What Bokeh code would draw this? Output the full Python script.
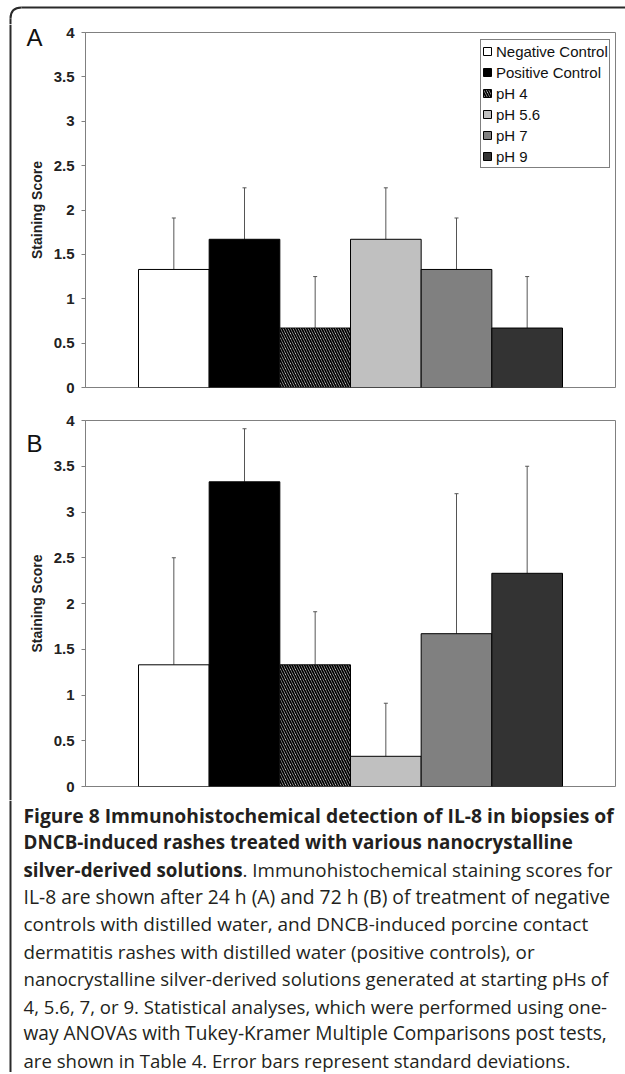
import math
from bokeh.plotting import figure
from bokeh.models import (Range1d, FixedTicker, Whisker, TeeHead, ColumnDataSource,
                          Legend, LegendItem, CustomJSTickFormatter)
from bokeh.layouts import column, row
from bokeh.embed import file_html
from bokeh.resources import INLINE
from bokeh.core.properties import value

# ---------------- data ----------------
groups = ["Negative Control", "Positive Control", "pH 4", "pH 5.6", "pH 7", "pH 9"]
bar_colors = ["#ffffff", "#000000", "#ffffff", "#c0c0c0", "#808080", "#333333"]
bar_hatches = [" ", " ", "\\", " ", " ", " "]
scores_24h = [1.33, 1.67, 0.67, 1.67, 1.33, 0.67]
sd_24h = [0.58, 0.58, 0.58, 0.58, 0.58, 0.58]
scores_72h = [1.33, 3.33, 1.33, 0.33, 1.67, 2.33]
sd_72h = [1.17, 0.58, 0.58, 0.58, 1.53, 1.17]
y_ticks = [0, 0.5, 1, 1.5, 2, 2.5, 3, 3.5, 4]
y_label = "Staining Score"
panel_letters = ["A", "B"]

caption_lines = [
    [("Figure 8 Immunohistochemical detection of IL-8 in biopsies of", "bold")],
    [("DNCB-induced rashes treated with various nanocrystalline", "bold")],
    [("silver-derived solutions", "bold"), (". Immunohistochemical staining scores for", "normal")],
    [("IL-8 are shown after 24 h (A) and 72 h (B) of treatment of negative", "normal")],
    [("controls with distilled water, and DNCB-induced porcine contact", "normal")],
    [("dermatitis rashes with distilled water (positive controls), or", "normal")],
    [("nanocrystalline silver-derived solutions generated at starting pHs of", "normal")],
    [("4, 5.6, 7, or 9. Statistical analyses, which were performed using one-", "normal")],
    [("way ANOVAs with Tukey-Kramer Multiple Comparisons post tests,", "normal")],
    [("are shown in Table 4. Error bars represent standard deviations.", "normal")],
]
caption_sizes = [19.3, 18.8, 18.8, 19.3, 19.0, 18.8, 18.6, 18.6, 19.1, 18.6]

W = 625
STRIP_W = 50
PANEL_W = W - STRIP_W
AXIS_GREY = "#808080"
FRAME_COL = "#2a2a2a"


def blank_fig(w, h):
    f = figure(width=w, height=h, x_range=Range1d(0, w), y_range=Range1d(h, 0),
               output_backend="svg", toolbar_location=None,
               x_axis_location=None, y_axis_location=None,
               min_border=0, min_border_left=0, min_border_right=0,
               min_border_top=0, min_border_bottom=0, frame_align=False)
    f.grid.visible = False
    f.outline_line_color = None
    f.border_fill_color = "white"
    f.background_fill_color = "white"
    return f


def panel(scores, sds, height, top, bottom, with_legend):
    p = figure(width=PANEL_W, height=height, x_range=Range1d(-1.25, 6.25), y_range=Range1d(0, 4),
               output_backend="svg", toolbar_location=None, frame_align=False,
               min_border_left=34, min_border_right=10, min_border_top=top,
               min_border_bottom=bottom)
    p.grid.visible = False
    p.xaxis.visible = False
    p.outline_line_color = AXIS_GREY
    p.outline_line_width = 1
    p.background_fill_color = "white"
    p.border_fill_color = "white"

    ya = p.yaxis[0]
    ya.ticker = FixedTicker(ticks=y_ticks)
    ya.formatter = CustomJSTickFormatter(code="return tick.toString()")
    ya.minor_tick_line_color = None
    ya.major_tick_in = 0
    ya.major_tick_out = 4
    ya.major_tick_line_color = AXIS_GREY
    ya.axis_line_color = AXIS_GREY
    ya.major_label_text_font = "Liberation Sans"
    ya.major_label_text_font_style = "bold"
    ya.major_label_text_font_size = "15px"
    ya.major_label_text_color = "#222222"
    ya.major_label_standoff = 7

    src = ColumnDataSource(dict(
        x=list(range(len(groups))),
        top=scores,
        upper=[s + d for s, d in zip(scores, sds)],
        color=bar_colors,
        hatch=bar_hatches,
    ))
    r = p.vbar(x="x", top="top", width=1.0, source=src, fill_color="color",
               line_color="black", line_width=1, hatch_pattern="hatch",
               hatch_color="black", hatch_scale=5, hatch_weight=1.8)

    w = Whisker(source=src, base="x", lower="top", upper="upper",
                line_color="#555555", line_width=1,
                upper_head=TeeHead(size=4, line_color="#555555", line_width=1),
                lower_head=None)
    p.add_layout(w)

    if with_legend:
        items = [LegendItem(label=g, renderers=[r], index=i) for i, g in enumerate(groups)]
        leg = Legend(items=items, location=(395, 219), margin=0, padding=1,
                     spacing=1, label_height=20, glyph_height=10, glyph_width=10,
                     label_standoff=4, label_text_font="Liberation Sans",
                     label_text_font_size="15px", label_text_color="#111111",
                     border_line_color="black", border_line_width=1,
                     background_fill_color="white", background_fill_alpha=1)
        p.add_layout(leg)
    return p


# ---- panels (page y: A 24..400, B 400..800) ----
pa = panel(scores_24h, sd_24h, 376, 8, 13, True)
pb = panel(scores_72h, sd_72h, 400, 20, 14, False)

# ---- top strip with rounded frame corner ----
TOP_H = 24
top = blank_fig(W, TOP_H)
top.quadratic(x0=[10], y0=[18], x1=[21], y1=[7], cx=[10], cy=[7],
              line_color=FRAME_COL, line_width=2)
top.segment(x0=[21], y0=[7], x1=[W], y1=[7], line_color=FRAME_COL, line_width=2)
top.segment(x0=[10], y0=[18], x1=[10], y1=[TOP_H], line_color=FRAME_COL, line_width=2)

# ---- left strip: frame line, panel letters, y-axis titles ----
STRIP_H = 376 + 400
left = blank_fig(STRIP_W, STRIP_H)
left.segment(x0=[10], y0=[0], x1=[10], y1=[STRIP_H], line_color=FRAME_COL, line_width=2)
left.text(x=[26, 26], y=[12.5, 419], text=panel_letters, text_font=value("Liberation Sans"),
          text_font_size="24px", text_color="#111111", text_baseline="middle",
          text_align="left")
left.text(x=[36, 36], y=[185.5, 579], text=[y_label, y_label], angle=math.pi / 2,
          text_font=value("Liberation Sans"), text_font_style="bold",
          text_font_size="14px", text_color="#222222", text_baseline="middle",
          text_align="center")

# ---- caption ----
CH = 272
cap = blank_fig(W, CH)
cap.segment(x0=[10], y0=[0], x1=[10], y1=[CH], line_color=FRAME_COL, line_width=2)
bold_part_width = 219
for i, parts in enumerate(caption_lines):
    xpos = 23
    for txt, style in parts:
        cap.text(x=[xpos], y=[14.5 + 27.3 * i], text=[txt], text_font=value("Open Sans"),
                 text_font_size=f"{caption_sizes[i]}px", text_font_style=style,
                 text_color="#231f20", text_baseline="middle", text_align="left")
        xpos += bold_part_width

layout = column(top, row(left, column(pa, pb, spacing=0), spacing=0), cap, spacing=0)

open("out.html", "w").write(file_html(layout, INLINE))
